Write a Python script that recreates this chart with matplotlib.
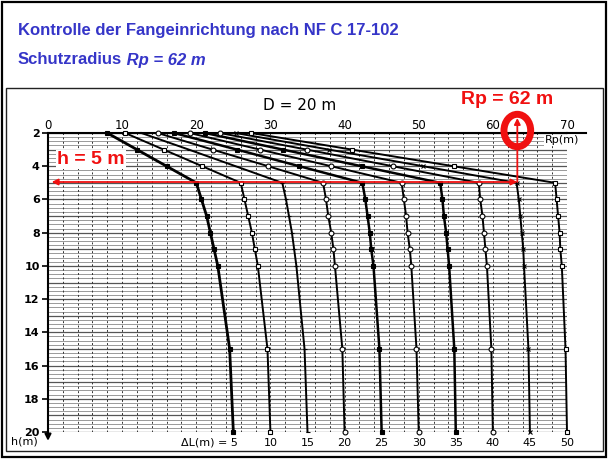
import matplotlib.pyplot as plt
import numpy as np
from matplotlib.patches import Ellipse, Rectangle

# values (NF C 17-102, D = 20 m)
H = [2, 3, 4, 5, 6, 7, 8, 9, 10, 15, 20]
DELTA_L = [5, 10, 15, 20, 25, 30, 35, 40, 45, 50]
RP_5 = [8.0, 12.0, 16.0, 20.0, 20.7, 21.4, 21.9, 22.4, 22.9, 24.5, 25.0]
RP_10 = [10.4, 15.6, 20.8, 26.0, 26.5, 27.0, 27.5, 27.9, 28.3, 29.6, 30.0]
RP_15 = [12.6, 19.0, 25.3, 31.6, 32.1, 32.5, 32.9, 33.2, 33.5, 34.6, 35.0]
RP_20 = [14.8, 22.2, 29.7, 37.1, 37.5, 37.8, 38.2, 38.5, 38.7, 39.7, 40.0]
RP_25 = [17.0, 25.5, 33.9, 42.4, 42.8, 43.1, 43.4, 43.6, 43.9, 44.7, 45.0]
RP_30 = [19.1, 28.6, 38.2, 47.7, 48.0, 48.3, 48.5, 48.8, 49.0, 49.7, 50.0]
RP_35 = [21.2, 31.7, 42.3, 52.9, 53.2, 53.4, 53.7, 53.9, 54.1, 54.8, 55.0]
RP_40 = [23.2, 34.9, 46.5, 58.1, 58.3, 58.6, 58.8, 59.0, 59.2, 59.8, 60.0]
RP_45 = [25.3, 37.9, 50.6, 63.2, 63.5, 63.7, 63.9, 64.1, 64.2, 64.8, 65.0]
RP_50 = [27.4, 41.0, 54.7, 68.4, 68.6, 68.8, 69.0, 69.1, 69.3, 69.8, 70.0]
CURVES = [RP_5, RP_10, RP_15, RP_20, RP_25, RP_30, RP_35, RP_40, RP_45, RP_50]

X_TICKS = [0, 10, 20, 30, 40, 50, 60, 70]
Y_TICKS = [2, 4, 6, 8, 10, 12, 14, 16, 18, 20]

H_MARK = 4.95   # h = 5 m line
RP_MARK = 63.3  # Rp = 62 m pointer

STYLES = [("s", "k", 2.0), ("s", "w", 1.4), ("_", "k", 1.4), ("o", "w", 1.4),
          ("s", "k", 1.8), ("o", "w", 1.4), ("s", "k", 1.8), ("o", "w", 1.4),
          ("x", "k", 1.4), ("s", "w", 1.4)]

SANS = ["Liberation Sans Narrow", "Liberation Sans", "DejaVu Sans"]
BLUE = "#3535c8"
RED = "#f01010"

fig = plt.figure(figsize=(6.08, 4.59), dpi=100)
W, HH = 608, 459


def px(x, y):
    return x / W, 1 - y / HH


# slide frame and scan frame
fig.patches.append(Rectangle(px(2, 457), 604 / W, 455 / HH, transform=fig.transFigure,
                             fill=False, lw=1.6, ec="k"))
fig.patches.append(Rectangle(px(6, 451), 597 / W, 363 / HH, transform=fig.transFigure,
                             fill=False, lw=1.0, ec="#222"))

ax = fig.add_axes([48 / W, 1 - 432 / HH, (567 - 48) / W, (432 - 133) / HH])
ax.set_xlim(0, 70)
ax.set_ylim(20, 2)

fig.text(*px(18, 31), "Kontrolle der Fangeinrichtung nach NF C 17-102", color=BLUE,
         fontsize=12, fontweight="bold", family=SANS, va="center")
t1 = fig.text(*px(18, 60), "Schutzradius", color=BLUE, fontsize=12, fontweight="bold",
              family=SANS, va="center")
ax.annotate(" Rp = 62 m", xy=(1, 0.5), xycoords=t1, va="center", ha="left",
            color=BLUE, fontsize=12, fontweight="bold", style="italic", family=SANS,
            annotation_clip=False)

for y in np.arange(2, 20.01, 0.25):
    major = abs(y - round(y)) < 1e-6
    ax.axhline(y, color="#555" if major else "#999", lw=0.9 if major else 0.7, zorder=1)
for x in range(2, 70, 2):
    ax.axvline(x, color="#333", lw=0.7, ls=(0, (2, 2.5)), zorder=1)

for dl, rp, (m, fc, lw) in zip(DELTA_L, CURVES, STYLES):
    ax.plot(rp, H, color="k", lw=lw, marker=m, ms=3.5, mfc=fc, mec="k", mew=0.8,
            zorder=3, clip_on=False)
    if dl == DELTA_L[0]:
        ax.text(rp[-1] + 0.6, 20.35, "\u0394L(m) = %d" % dl, ha="right", va="top", fontsize=8)
    else:
        ax.text(rp[-1], 20.35, str(dl), ha="center", va="top", fontsize=8)

for s in ["right", "bottom"]:
    ax.spines[s].set_visible(False)
for s in ["top", "left"]:
    ax.spines[s].set_linewidth(1.5)
ax.xaxis.tick_top()
ax.set_xticks(X_TICKS)
ax.set_yticks(Y_TICKS)
ax.tick_params(axis="x", length=0, pad=1, labelsize=8.5)
ax.tick_params(axis="y", length=4, width=1.2, pad=2, labelsize=8)
for t in ax.get_yticklabels():
    t.set_fontweight("bold")

# axis arrows and labels
ax.plot([70, 72.5], [2, 2], color="k", lw=1.5, clip_on=False)
ax.annotate("", xy=(0, 20.7), xytext=(0, 19.9), annotation_clip=False,
            arrowprops=dict(arrowstyle="-|>", color="k", lw=1.5, mutation_scale=9))
fig.text(*px(24, 442), "h(m)", ha="center", va="center", fontsize=8)
ax.text(69.3, 2.45, "Rp(m)", ha="center", va="center", fontsize=8,
        bbox=dict(fc="w", ec="none", pad=0.5), zorder=4)
fig.text(*px(300, 105), "D = 20 m", ha="center", va="center", fontsize=11)

# red annotations
ax.annotate("", xy=(0.5, H_MARK), xytext=(RP_MARK, H_MARK), zorder=5,
            arrowprops=dict(arrowstyle="<|-|>", color=RED, lw=1.3, mutation_scale=9,
                            shrinkA=0, shrinkB=0))
ax.annotate("", xy=(RP_MARK, 1.1), xytext=(RP_MARK, H_MARK), annotation_clip=False, zorder=5,
            arrowprops=dict(arrowstyle="-|>", color=RED, lw=1.3, mutation_scale=9,
                            shrinkA=0, shrinkB=0))
ax.add_patch(Ellipse((RP_MARK, 1.85), 3.6, 1.95, fill=False, ec=RED, lw=5,
                     clip_on=False, zorder=6))
ax.text(1.2, 3.6, "h = 5 m", color=RED, fontsize=14, fontweight="bold", family=SANS,
        va="center", ha="left", zorder=6, bbox=dict(fc="w", ec="none", pad=1))
fig.text(*px(507, 100), "Rp = 62 m", color=RED, fontsize=14, fontweight="bold",
         family=SANS, va="center", ha="center")

plt.savefig("out.png", dpi=100)
plt.close()
